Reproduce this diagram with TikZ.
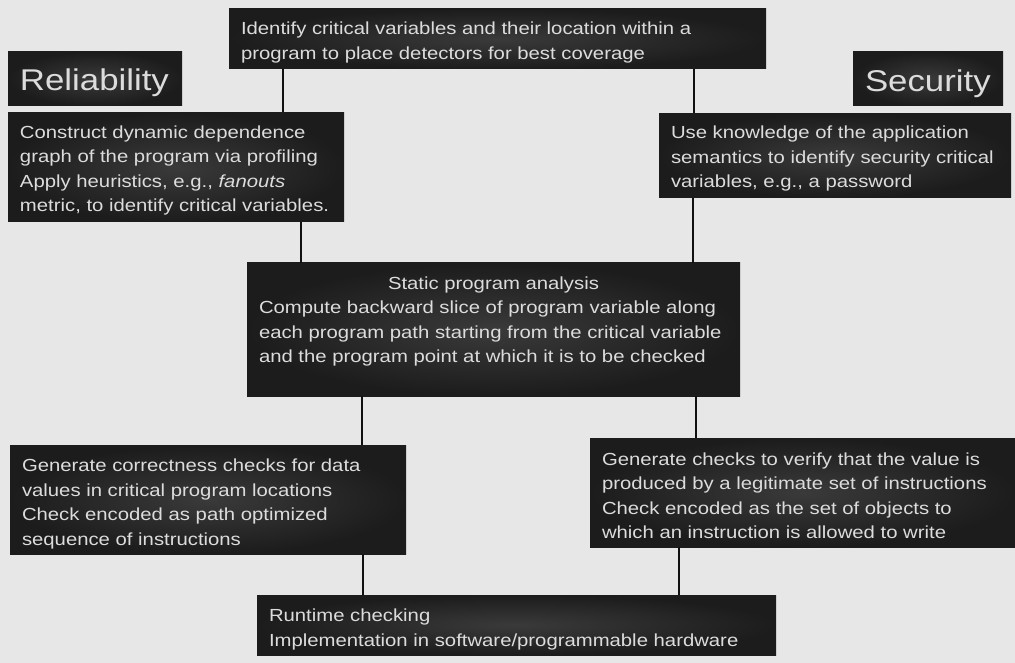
\documentclass[tikz,border=0pt]{standalone}
\usepackage{fontspec}
\setmainfont{Liberation Sans}[FakeStretch=1.16]
\definecolor{bg}{HTML}{E7E7E7}
\definecolor{boxin}{HTML}{3A3A3A}
\definecolor{boxout}{HTML}{1C1C1C}
\definecolor{txt}{HTML}{DCDCDC}
\definecolor{wirec}{HTML}{111111}
% width, height, baseline offset, font size, text
\newcommand\bx[5]{%
  \begin{minipage}[c][#2pt][t]{#1pt}\fontsize{#4}{24.5}\selectfont\raggedright\leftskip=12pt\relax
  \vspace*{\dimexpr#3pt-25pt\relax}\rule{0pt}{25pt}#5\end{minipage}}
\tikzset{
  blk/.style={inner color=boxin, outer color=boxout, inner sep=0pt, outer sep=0pt,
    anchor=north west, text=txt},
  wire/.style={draw=wirec, line width=2.8pt}
}
\begin{document}
\begin{tikzpicture}[x=1pt,y=-1pt]
\fill[bg] (0,0) rectangle (1015,663);
\useasboundingbox (0,0) rectangle (1015,663);

\node[blk] (top) at (229,9) {\bx{537}{60}{26}{17.5}{Identify critical variables and their location within a\\program to place detectors for best coverage}};
\node[blk] (relt) at (8,52) {\bx{174}{54}{38.6}{30}{Reliability}};
\node[blk] (sect) at (853,52) {\bx{150}{54}{39.4}{30}{Security}};
\node[blk] (relc) at (8,112.5) {\bx{336}{109.5}{25.8}{17.5}{Construct dynamic dependence\\graph of the program via profiling\\Apply heuristics, e.g., \textit{fanouts}\\metric, to identify critical variables.}};
\node[blk] (secc) at (659,113.5) {\bx{352}{84.5}{25.5}{17.5}{Use knowledge of the application\\semantics to identify security critical\\variables, e.g., a password}};
\node[blk] (stat) at (247,263) {\bx{493}{133}{26}{17.5}{\makebox[469pt][c]{Static program analysis}\\Compute backward slice of program variable along\\each program path starting from the critical variable\\and the program point at which it is to be checked}};
\node[blk] (lgen) at (10,445) {\bx{396}{109}{26.5}{17.5}{Generate correctness checks for data\\values in critical program locations\\Check encoded as path optimized\\sequence of instructions}};
\node[blk] (rgen) at (590,438) {\bx{425}{109}{27}{17.5}{Generate checks to verify that the value is\\produced by a legitimate set of instructions\\Check encoded as the set of objects to\\which an instruction is allowed to write}};
\node[blk] (run) at (257,595) {\bx{519}{60}{26.7}{17.5}{Runtime checking\\Implementation in software/programmable hardware}};

\draw[wire] ([xshift=54pt]top.south west) -- ([xshift=54pt]top.south west |- relc.north);
\draw[wire] ([xshift=465pt]top.south west) -- ([xshift=465pt]top.south west |- secc.north);
\draw[wire] ([xshift=293pt]relc.south west) -- ([xshift=293pt]relc.south west |- stat.north);
\draw[wire] ([xshift=34pt]secc.south west) -- ([xshift=34pt]secc.south west |- stat.north);
\draw[wire] ([xshift=115pt]stat.south west) -- ([xshift=115pt]stat.south west |- lgen.north);
\draw[wire] ([xshift=449pt]stat.south west) -- ([xshift=449pt]stat.south west |- rgen.north);
\draw[wire] ([xshift=353pt]lgen.south west) -- ([xshift=353pt]lgen.south west |- run.north);
\draw[wire] ([xshift=89pt]rgen.south west) -- ([xshift=89pt]rgen.south west |- run.north);
\end{tikzpicture}
\end{document}
